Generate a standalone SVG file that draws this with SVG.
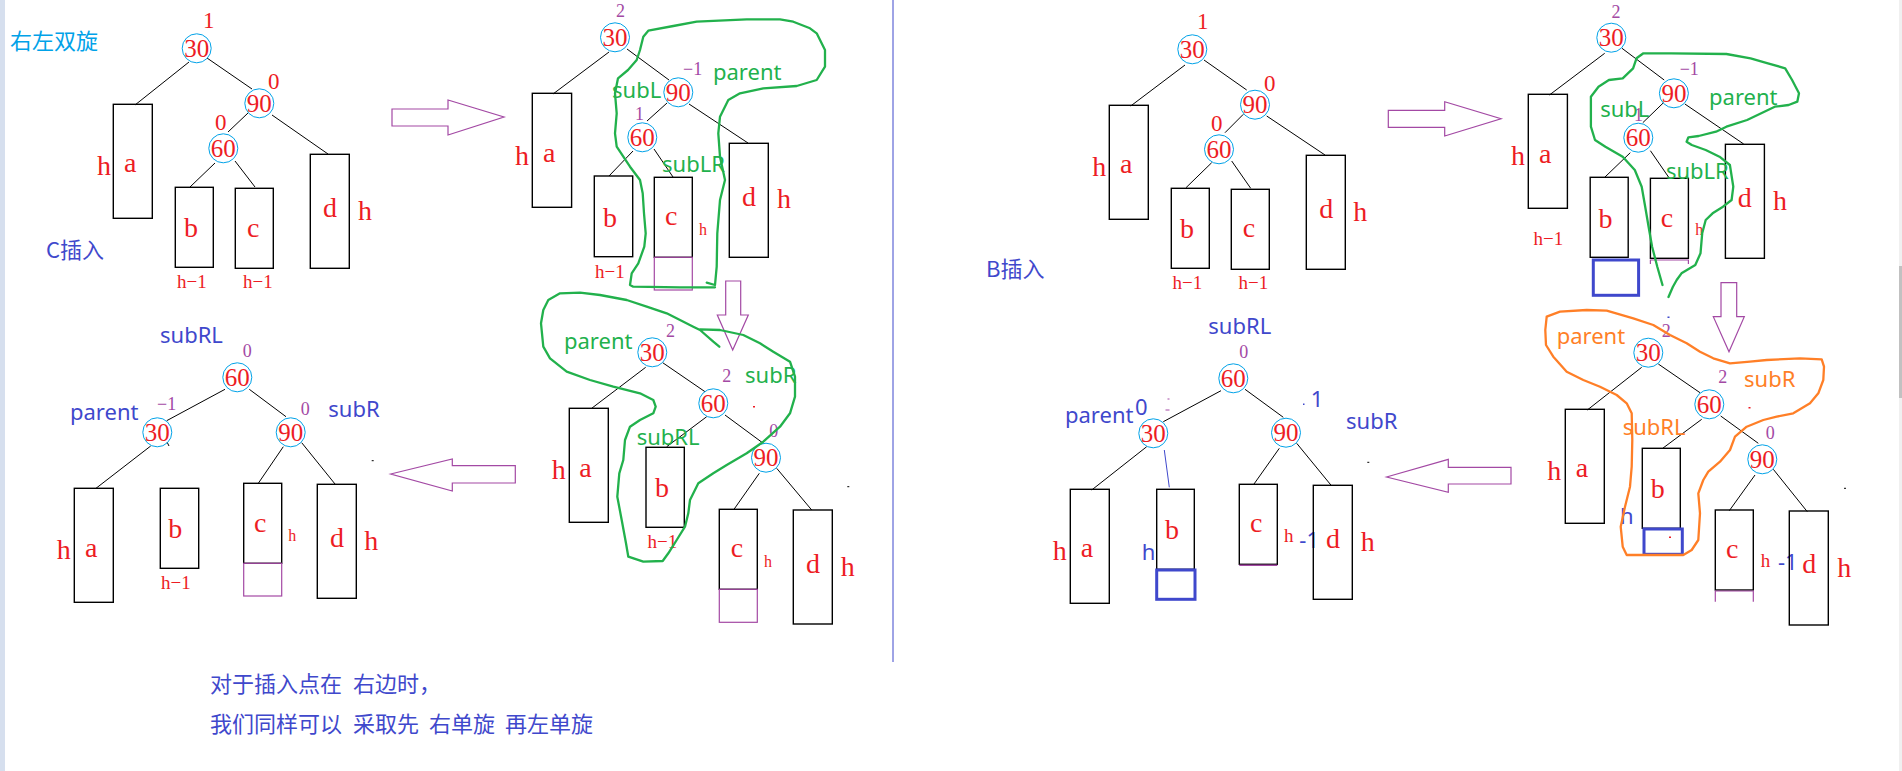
<svg xmlns="http://www.w3.org/2000/svg" width="1902" height="771" viewBox="0 0 1902 771">
<style>
.nc{fill:none;stroke:#00a2e8;stroke-width:1}
.nv{font-family:"Liberation Serif",serif;font-size:25px;fill:#ed1c24;text-anchor:middle}
.box{fill:none;stroke:#000;stroke-width:1.4}
.pbox{fill:none;stroke:#a349a4;stroke-width:1.2}
.bbox{fill:none;stroke:#3f48cc;stroke-width:3}
.lt{font-family:"Liberation Serif",serif;font-size:28px;fill:#ed1c24}
.hs{font-family:"Liberation Serif",serif;font-size:19px;fill:#ed1c24}
.hm{font-family:"Liberation Serif",serif;font-size:16px;fill:#ed1c24}
.bfr{font-family:"Liberation Serif",serif;font-size:23px;fill:#ed1c24}
.bfp{font-family:"Liberation Serif",serif;font-size:18px;fill:#a349a4}
.e{stroke:#000;stroke-width:1;fill:none}
.arr{fill:#fff;stroke:#a349a4;stroke-width:1.2}
.lg{font-family:"Noto Sans",sans-serif;font-size:22px;fill:#22b14c}
.lo{font-family:"Noto Sans",sans-serif;font-size:22px;fill:#ff7f27}
.lb{font-family:"Noto Sans",sans-serif;font-size:22px;fill:#3f48cc}
.cjk{font-family:"Noto Sans CJK SC","Noto Sans",sans-serif;font-size:22px;fill:#3f48cc}
.gl{fill:none;stroke:#22b14c;stroke-width:2.3;stroke-linejoin:round;stroke-linecap:round}
.ol{fill:none;stroke:#ff7f27;stroke-width:2.3;stroke-linejoin:round;stroke-linecap:round}
</style>
<rect x="0" y="0" width="1902" height="771" fill="#fff"/>
<rect x="0" y="0" width="5" height="771" fill="#d6dfee"/>
<rect x="1899" y="0" width="3" height="771" fill="#f0f0f0"/>
<rect x="1899" y="266" width="3" height="132" fill="#c1c1c1"/>
<line x1="893" y1="0" x2="893" y2="662" stroke="#3f48cc" stroke-width="1"/>

<text x="10" y="48.5" font-family="Noto Sans CJK SC, sans-serif" font-size="22" fill="#00a2e8">右左双旋</text>
<text class="cjk" x="46" y="258">C插入</text>
<text class="cjk" x="986" y="277">B插入</text>

<g id="connectors">
<path class="e" d="M189,62 L135,105 M207,58 L252,89 M248,113 L228,132 M272,115 L328,154 M215,163 L190,187 M235,161 L255,187"/>
<path class="e" d="M609,52 L553,94 M627,49 L669,80 M667,103 L647,121 M689,104 L748,143 M633,151 L609,176 M654,149 L673,177"/>
<path class="e" d="M645.7,367.3 L591.7,408.3 M662.7,362.7 L705,391.7 M706.7,416.7 L666.7,446.7 M725,415 L763.3,443.3 M759.3,473.3 L734,509.3 M776.7,468.3 L811.7,510"/>
<path class="e" d="M225,389.3 L166.7,420.7 M249.3,389.3 L286,416.7 M150.7,446 L96,488.3 M283.3,446.7 L258.3,483.3 M301.7,442.7 L335,484 M167,442 L169,446"/>
<path class="e" d="M1185,65 L1130.7,106 M1204,60 L1246.7,90 M1243.3,114.3 L1225,132.7 M1266.7,116 L1325,155 M1211.7,162.7 L1186,187.7 M1231.7,161 L1250.7,188.3"/>
<path class="e" d="M1604.7,53.3 L1549.4,95 M1622,48.3 L1664.2,80 M1663.5,102.7 L1642.8,122.7 M1684.9,104 L1743.7,144 M1630.3,152.7 L1604.7,177.3 M1650.4,150.7 L1669.4,178.3"/>
<path class="e" d="M1641.7,367.3 L1587.3,410 M1658.3,364 L1700,392.7 M1701.7,419.3 L1662.7,448.3 M1720.7,416 L1758.3,443.3 M1755,475 L1729.3,510.7 M1773.3,469.3 L1807.3,511.7"/>
<path class="e" d="M1221,390.7 L1163.3,421.7 M1245,389.3 L1283.3,417.3 M1146.7,446.7 L1091.7,490 M1279.3,448.3 L1253.3,485 M1296.7,443.3 L1331.7,486"/>
<path d="M1164.3,450 L1169.3,487.3" stroke="#3f48cc" stroke-width="1" fill="none"/>
<path class="e" d="M371.7,460.7 h2 M847.3,486.7 h2 M1367.3,462.3 h2 M1844,488.3 h2"/>
<polygon class="arr" points="392,109 448,109 448,100 504,117 448,135 448,126 392,126"/>
<polygon class="arr" points="725.7,281 740.7,281 740.7,315 748.3,315 732.7,350 717.3,315 725.7,315"/>
<polygon class="arr" points="390.7,474 452.3,459 452.3,465.7 515.3,465.7 515.3,483 452.3,483 452.3,491"/>
<polygon class="arr" points="1388.3,110.3 1444.7,110.3 1444.7,101.7 1501,118.7 1444.7,136 1444.7,127.3 1388.3,127.3"/>
<polygon class="arr" points="1721,282.7 1736.7,282.7 1736.7,316.7 1744.3,316.7 1729,351.7 1713.3,316.7 1721,316.7"/>
<polygon class="arr" points="1386.5,477 1448.3,459.3 1448.3,467.3 1511,467.3 1511,484 1448.3,484 1448.3,492.3"/>
</g>

<!-- Tree 1 -->
<g id="T1-30"><circle class="nc" cx="196.7" cy="48.3" r="14.5"/><text class="nv" x="196.7" y="56.8">30</text><text class="bfr" x="203" y="28">1</text></g>
<g id="T1-90"><circle class="nc" cx="259.3" cy="103.3" r="14.5"/><text class="nv" x="259.3" y="111.8">90</text><text class="bfr" x="268" y="89">0</text></g>
<g id="T1-60"><circle class="nc" cx="223.3" cy="148.3" r="14.5"/><text class="nv" x="223.3" y="156.8">60</text><text class="bfr" x="215" y="130">0</text></g>
<g id="T1-a"><rect class="box" x="113.3" y="104.3" width="39" height="114"/><text class="lt" x="124" y="172">a</text><text class="lt" x="97" y="175">h</text></g>
<g id="T1-b"><rect class="box" x="175.3" y="187.3" width="38" height="80"/><text class="lt" x="184" y="237">b</text><text class="hs" x="177" y="288">h−1</text></g>
<g id="T1-c"><rect class="box" x="235.3" y="188.3" width="38" height="80"/><text class="lt" x="247" y="237">c</text><text class="hs" x="243" y="288">h−1</text></g>
<g id="T1-d"><rect class="box" x="310.3" y="154.3" width="39" height="114"/><text class="lt" x="323" y="217">d</text><text class="lt" x="358" y="220">h</text></g>

<!-- Tree 2 -->
<g id="T2-30"><circle class="nc" cx="615" cy="37.3" r="14.5"/><text class="nv" x="615" y="45.8">30</text><text class="bfp" x="616" y="17">2</text></g>
<g id="T2-90"><circle class="nc" cx="678.3" cy="92.3" r="14.5"/><text class="nv" x="678.3" y="100.8">90</text><text class="bfp" x="683" y="75">−1</text></g>
<g id="T2-60"><circle class="nc" cx="642.3" cy="137.3" r="14.5"/><text class="nv" x="642.3" y="145.8">60</text><text class="bfp" x="635" y="120">1</text></g>
<g id="T2-a"><rect class="box" x="532.3" y="93.3" width="39.3" height="114"/><text class="lt" x="543" y="162">a</text><text class="lt" x="515" y="165">h</text></g>
<g id="T2-b"><rect class="box" x="594.3" y="176" width="38.4" height="80.7"/><text class="lt" x="603" y="227">b</text><text class="hs" x="595" y="278">h−1</text></g>
<g id="T2-c"><rect class="box" x="654.3" y="177.3" width="38" height="80"/><rect class="pbox" x="654.3" y="257.3" width="38" height="32.7"/><text class="lt" x="665" y="225">c</text><text class="hm" x="699" y="235">h</text></g>
<g id="T2-d"><rect class="box" x="729.3" y="143.3" width="39" height="114"/><text class="lt" x="742" y="206">d</text><text class="lt" x="777" y="208">h</text></g>
<text class="lg" x="713" y="80">parent</text>
<text class="lg" x="612" y="98">subL</text>
<text class="lg" x="662" y="172">subLR</text>

<!-- Tree 3 -->
<g id="T3-30"><circle class="nc" cx="652.3" cy="352.3" r="14.5"/><text class="nv" x="652.3" y="360.8">30</text><text class="bfp" x="666" y="336.7">2</text></g>
<g id="T3-60"><circle class="nc" cx="713.3" cy="403.3" r="14.5"/><text class="nv" x="713.3" y="411.8">60</text><text class="bfp" x="722.3" y="381.7">2</text></g>
<g id="T3-90"><circle class="nc" cx="766" cy="457.7" r="14.5"/><text class="nv" x="766" y="466.2">90</text><text class="bfp" x="769.3" y="437.3">0</text></g>
<g id="T3-a"><rect class="box" x="569.3" y="408.3" width="39" height="114"/><text class="lt" x="579.3" y="476.7">a</text><text class="lt" x="551.7" y="479.3">h</text></g>
<g id="T3-b"><rect class="box" x="646" y="447.3" width="38.3" height="80"/><text class="lt" x="655" y="497.3">b</text><text class="hs" x="647.5" y="548.3">h−1</text></g>
<g id="T3-c"><rect class="box" x="719.3" y="509.3" width="38" height="80"/><rect class="pbox" x="719.3" y="589.3" width="38" height="33"/><text class="lt" x="730.7" y="556.7">c</text><text class="hm" x="764" y="566.7">h</text></g>
<g id="T3-d"><rect class="box" x="793.3" y="510" width="39" height="114"/><text class="lt" x="806" y="573.3">d</text><text class="lt" x="840.7" y="576">h</text></g>
<text class="lg" x="564" y="349">parent</text>
<text class="lg" x="745" y="383">subR</text>
<text class="lg" x="636.7" y="445">subRL</text>
<rect x="753" y="406" width="2" height="1.5" fill="#ed1c24"/>

<!-- Tree 4 -->
<g id="T4-60"><circle class="nc" cx="237.3" cy="377.3" r="14.5"/><text class="nv" x="237.3" y="385.8">60</text><text class="bfp" x="242.7" y="357.3">0</text></g>
<g id="T4-30"><circle class="nc" cx="157.3" cy="432.3" r="14.5"/><text class="nv" x="157.3" y="440.8">30</text><text class="bfp" x="157" y="410">−1</text></g>
<g id="T4-90"><circle class="nc" cx="290.7" cy="432.3" r="14.5"/><text class="nv" x="290.7" y="440.8">90</text><text class="bfp" x="300.7" y="415">0</text></g>
<g id="T4-a"><rect class="box" x="74.3" y="488.3" width="39" height="114"/><text class="lt" x="85" y="556.7">a</text><text class="lt" x="56.7" y="559.3">h</text></g>
<g id="T4-b"><rect class="box" x="160.3" y="488.3" width="38.4" height="80"/><text class="lt" x="168.3" y="538.3">b</text><text class="hs" x="161" y="589.3">h−1</text></g>
<g id="T4-c"><rect class="box" x="243.7" y="483.3" width="38" height="80"/><rect class="pbox" x="243.7" y="563.3" width="38" height="32.7"/><text class="lt" x="254" y="531.7">c</text><text class="hm" x="288.3" y="540.7">h</text></g>
<g id="T4-d"><rect class="box" x="317.3" y="484.3" width="39" height="114"/><text class="lt" x="330" y="546.7">d</text><text class="lt" x="364.3" y="550">h</text></g>
<text class="lb" x="160" y="343.3">subRL</text>
<text class="lb" x="70" y="420">parent</text>
<text class="lb" x="328.3" y="417.3">subR</text>

<!-- Tree 5 -->
<g id="T5-30"><circle class="nc" cx="1192.3" cy="49.3" r="14.5"/><text class="nv" x="1192.3" y="57.8">30</text><text class="bfr" x="1197" y="29.3">1</text></g>
<g id="T5-90"><circle class="nc" cx="1255" cy="104.7" r="14.5"/><text class="nv" x="1255" y="113.2">90</text><text class="bfr" x="1264" y="90.7">0</text></g>
<g id="T5-60"><circle class="nc" cx="1219" cy="149.3" r="14.5"/><text class="nv" x="1219" y="157.8">60</text><text class="bfr" x="1211" y="130.7">0</text></g>
<g id="T5-a"><rect class="box" x="1109.3" y="105.3" width="39" height="114"/><text class="lt" x="1120" y="173.3">a</text><text class="lt" x="1092.3" y="175.7">h</text></g>
<g id="T5-b"><rect class="box" x="1171.3" y="188.3" width="38" height="80"/><text class="lt" x="1180" y="238.3">b</text><text class="hs" x="1172.5" y="289.3">h−1</text></g>
<g id="T5-c"><rect class="box" x="1231.3" y="189.3" width="38" height="80"/><text class="lt" x="1242.7" y="236.7">c</text><text class="hs" x="1238.5" y="289.3">h−1</text></g>
<g id="T5-d"><rect class="box" x="1306.3" y="155.3" width="39" height="114"/><text class="lt" x="1319.3" y="218.3">d</text><text class="lt" x="1353.3" y="221">h</text></g>

<!-- Tree 6 -->
<g id="T6-30"><circle class="nc" cx="1611.3" cy="37.7" r="14.5"/><text class="nv" x="1611.3" y="46.2">30</text><text class="bfp" x="1611.5" y="18.3">2</text></g>
<g id="T6-90"><circle class="nc" cx="1673.9" cy="93.3" r="14.5"/><text class="nv" x="1673.9" y="101.8">90</text><text class="bfp" x="1679.7" y="75">−1</text></g>
<g id="T6-60"><circle class="nc" cx="1638.3" cy="137.7" r="14.5"/><text class="nv" x="1638.3" y="146.2">60</text><text class="bfp" x="1634" y="121">1</text></g>
<g id="T6-a"><rect class="box" x="1528.3" y="94.3" width="39.1" height="114"/><text class="lt" x="1539" y="162.7">a</text><text class="lt" x="1511" y="165">h</text></g>
<g id="T6-b"><rect class="box" x="1590.2" y="177.3" width="38" height="80"/><rect class="bbox" x="1593.3" y="260" width="45.3" height="35.3"/><text class="lt" x="1598.5" y="227.7">b</text><text class="hs" x="1533.5" y="245">h−1</text></g>
<g id="T6-c"><rect class="box" x="1650.4" y="178.3" width="38" height="80"/><path d="M1650.4,264 V260 H1688.4 V264" fill="none" stroke="#a349a4" stroke-width="1.2"/><text class="lt" x="1660.7" y="226.7">c</text><text class="hm" x="1695.3" y="235">h</text></g>
<g id="T6-d"><rect class="box" x="1725.4" y="144.3" width="39" height="114"/><text class="lt" x="1737.8" y="206.7">d</text><text class="lt" x="1773" y="210">h</text></g>
<text class="lg" x="1709.1" y="105">parent</text>
<text class="lg" x="1600.2" y="117.3">subL</text>
<text class="lg" x="1665.9" y="179.3">subLR</text>

<!-- Tree 7 -->
<g id="T7-30"><circle class="nc" cx="1648.3" cy="352.7" r="14.5"/><text class="nv" x="1648.3" y="361.2">30</text><text class="bfp" x="1661.7" y="337.3">2</text></g>
<g id="T7-60"><circle class="nc" cx="1709.3" cy="404.3" r="14.5"/><text class="nv" x="1709.3" y="412.8">60</text><text class="bfp" x="1718.3" y="382.7">2</text></g>
<g id="T7-90"><circle class="nc" cx="1762.3" cy="459.3" r="14.5"/><text class="nv" x="1762.3" y="467.8">90</text><text class="bfp" x="1765.7" y="439">0</text></g>
<g id="T7-a"><rect class="box" x="1565.3" y="409.3" width="39" height="114"/><text class="lt" x="1575.7" y="477.3">a</text><text class="lt" x="1547.3" y="480">h</text></g>
<g id="T7-b"><rect class="box" x="1642.3" y="448.3" width="38" height="80"/><rect class="bbox" x="1644" y="529" width="38.3" height="25.3"/><text class="lt" x="1650.7" y="498.3">b</text><text class="lb" x="1620" y="524" font-size="23">h</text></g>
<g id="T7-c"><rect class="box" x="1715.3" y="510" width="38" height="80"/><path d="M1715.3,601.7 V591 H1753.3 V601.7" fill="none" stroke="#a349a4" stroke-width="1.2"/><text class="lt" x="1726" y="558.3">c</text><text class="hs" x="1760.7" y="567.3">h</text><text class="lb" x="1778" y="570" font-size="23">-1</text></g>
<g id="T7-d"><rect class="box" x="1789.3" y="511" width="39" height="114"/><text class="lt" x="1802.3" y="573.3">d</text><text class="lt" x="1837.3" y="576.7">h</text></g>
<text class="lo" x="1556.7" y="344">parent</text>
<text class="lo" x="1744" y="386.7">subR</text>
<text class="lo" x="1622.7" y="435">subRL</text>
<rect x="1667.5" y="316.5" width="2" height="1.5" fill="#3f48cc"/>
<rect x="1748.5" y="407" width="2" height="1.5" fill="#ed1c24"/>
<rect x="1669" y="536.5" width="2" height="1.5" fill="#ed1c24"/>

<!-- Tree 8 -->
<g id="T8-60"><circle class="nc" cx="1233.3" cy="378.3" r="14.5"/><text class="nv" x="1233.3" y="386.8">60</text><text class="bfp" x="1239.3" y="358.3">0</text></g>
<g id="T8-30"><circle class="nc" cx="1153.3" cy="433.3" r="14.5"/><text class="nv" x="1153.3" y="441.8">30</text><text class="lb" x="1135" y="415" font-size="24">0</text></g>
<g id="T8-90"><circle class="nc" cx="1286" cy="432.7" r="14.5"/><text class="nv" x="1286" y="441.2">90</text><text class="lb" x="1310.7" y="406.7" font-size="23">1</text></g>
<g id="T8-a"><rect class="box" x="1070.3" y="489.3" width="39" height="114"/><text class="lt" x="1080.7" y="557.3">a</text><text class="lt" x="1052.7" y="560">h</text></g>
<g id="T8-b"><rect class="box" x="1156.7" y="489.3" width="37.6" height="80"/><rect class="bbox" x="1156.7" y="570" width="38.3" height="29.3"/><text class="lt" x="1165" y="539.3">b</text><text class="lb" x="1141.7" y="560" font-size="23">h</text></g>
<g id="T8-c"><rect class="box" x="1239.3" y="484.3" width="38" height="80"/><path d="M1239.3,565.3 H1277.3" stroke="#a349a4" stroke-width="1.5"/><text class="lt" x="1250" y="531.7">c</text><text class="hs" x="1284" y="541.7">h</text><text class="lb" x="1299.3" y="548.3" font-size="23">-1</text></g>
<g id="T8-d"><rect class="box" x="1313.3" y="485.3" width="39" height="114"/><text class="lt" x="1326" y="548.3">d</text><text class="lt" x="1360.7" y="550.7">h</text></g>
<text class="lb" x="1208.3" y="334.3">subRL</text>
<text class="lb" x="1065" y="423.3">parent</text>
<text class="lb" x="1346" y="429.3">subR</text>
<path d="M1167.5,399 h2 M1165.5,410 h4" stroke="#a349a4" stroke-width="1"/>
<rect x="1303" y="403.5" width="1.5" height="1.5" fill="#3f48cc"/>

<!-- annotation loops -->
<g id="loops">
<path class="gl" d="M706.7,282.7 L715,285 L716.7,266.7 L717.3,233.3 L720,200 L725,180 L720,156.7 L718.3,133.3 L720,116.7 L728.3,100 L740,93.3 L763.3,88.3 L796.7,86 L816.7,80 L825,66.7 L825,50 L816.7,33.3 L810,28.3 L793.3,21.7 L780,19.3 L746.7,19.3 L696.7,21.7 L673.3,26 L648.3,30.7 L643.3,36.7 L640,50 L636.7,60 L628,70 L618,78.3 L615,93.3 L616.7,113.3 L615,133.3 L616.7,146.7 L630,166.7 L640,180 L642.7,193.3 L644,213.3 L645.7,233.3 L644.3,246.7 L638.3,263.3 L631.7,273.3 L630,285 L633.3,286.7 L680,287.3 L715,287.3"/>
<path class="gl" d="M719.3,346.7 L713.3,341.7 L700,330 L693.3,326.7 L680,320 L666.7,313.3 L646.7,306.7 L626.7,300 L600,295 L580,292.7 L560,293.3 L548.3,300 L543.3,310 L541,323.3 L543.3,346.7 L550,358.3 L566.7,371.7 L590,380 L613.3,386.7 L640,393.3 L653.3,400 L655.7,406.7 L653.3,413.3 L640,420 L630,426.7 L625,440 L623.3,460 L619.3,473.3 L617.3,496.7 L621.7,520 L626,543.3 L628.3,556.7 L643.3,561.7 L662.7,561 L668.3,553.3 L676.7,540 L685,526.7 L688.3,513.3 L690,500 L698.3,483.3 L713.3,473.3 L726.7,465 L746.7,453.3 L763.3,441.7 L780,426.7 L790,413.3 L795,396.7 L795,376.7 L790,361.7 L773.3,351.7 L760,343.3 L743.3,335 L720,330 L700,329.3"/>
<path class="gl" d="M1662.5,285 L1657.3,266.7 L1652.1,246.7 L1648.6,226.7 L1645.2,206.7 L1641.7,186.7 L1634.8,170 L1622.7,156.7 L1605.4,146.7 L1595,140 L1590.9,126.7 L1590.9,96.7 L1598.5,86.7 L1608.9,80 L1622.7,78.3 L1633.1,68.3 L1636.5,58.3 L1643.4,53.3 L1671.1,53.3 L1726.4,54 L1750.6,58.3 L1767.9,63.3 L1785.2,68.3 L1792.1,80 L1799,93.3 L1797.3,101.7 L1788.6,105 L1774.8,106.7 L1747.1,120 L1726.4,126.7 L1716,131.7 L1698.7,136 L1688.4,137.3 L1686.6,141.7 L1691.8,145 L1705.7,150 L1719.5,156.7 L1729.9,165 L1733.3,186.7 L1731.6,200 L1723,206.7 L1712.6,213.3 L1705.7,220 L1702.2,233.3 L1700.5,253.3 L1695.3,265 L1681.5,273.3 L1676.7,280 L1672.8,287 L1668.5,297"/>
<path class="ol" d="M1546.7,316.7 L1560,311.7 L1586.7,310 L1606.7,310.7 L1633.3,318.3 L1653.3,325 L1670,335 L1686.7,343.3 L1700,351.7 L1713.3,358.3 L1730,363.3 L1750,361.7 L1766.7,360 L1800,358.3 L1821.7,359.3 L1824,366.7 L1823.3,380 L1818.3,393.3 L1810,403.3 L1793.3,413.3 L1776.7,416.7 L1763.3,420 L1746.7,426.7 L1735,436.7 L1730,450 L1720,461.7 L1708.3,471.7 L1703.3,480 L1698.3,493.3 L1700,513.3 L1698.3,540 L1691.7,550 L1683.3,555 L1650,555 L1626.7,555 L1622.7,546.7 L1620.7,526.7 L1625,506.7 L1630,486.7 L1631.7,466.7 L1632.3,440 L1631.7,413.3 L1626.7,403.3 L1616.7,395 L1600,386.7 L1583.3,380 L1566.7,371.7 L1553.3,356.7 L1546,345 L1545.3,330 Z"/>
</g>

<g id="note">
<text class="cjk" y="692"><tspan x="210">对于插入点在</tspan><tspan x="353">右边时，</tspan></text>
<text class="cjk" y="732"><tspan x="210">我们同样可以</tspan><tspan x="353">采取先</tspan><tspan x="429">右单旋</tspan><tspan x="505">再左单旋</tspan></text>
</g>
</svg>
